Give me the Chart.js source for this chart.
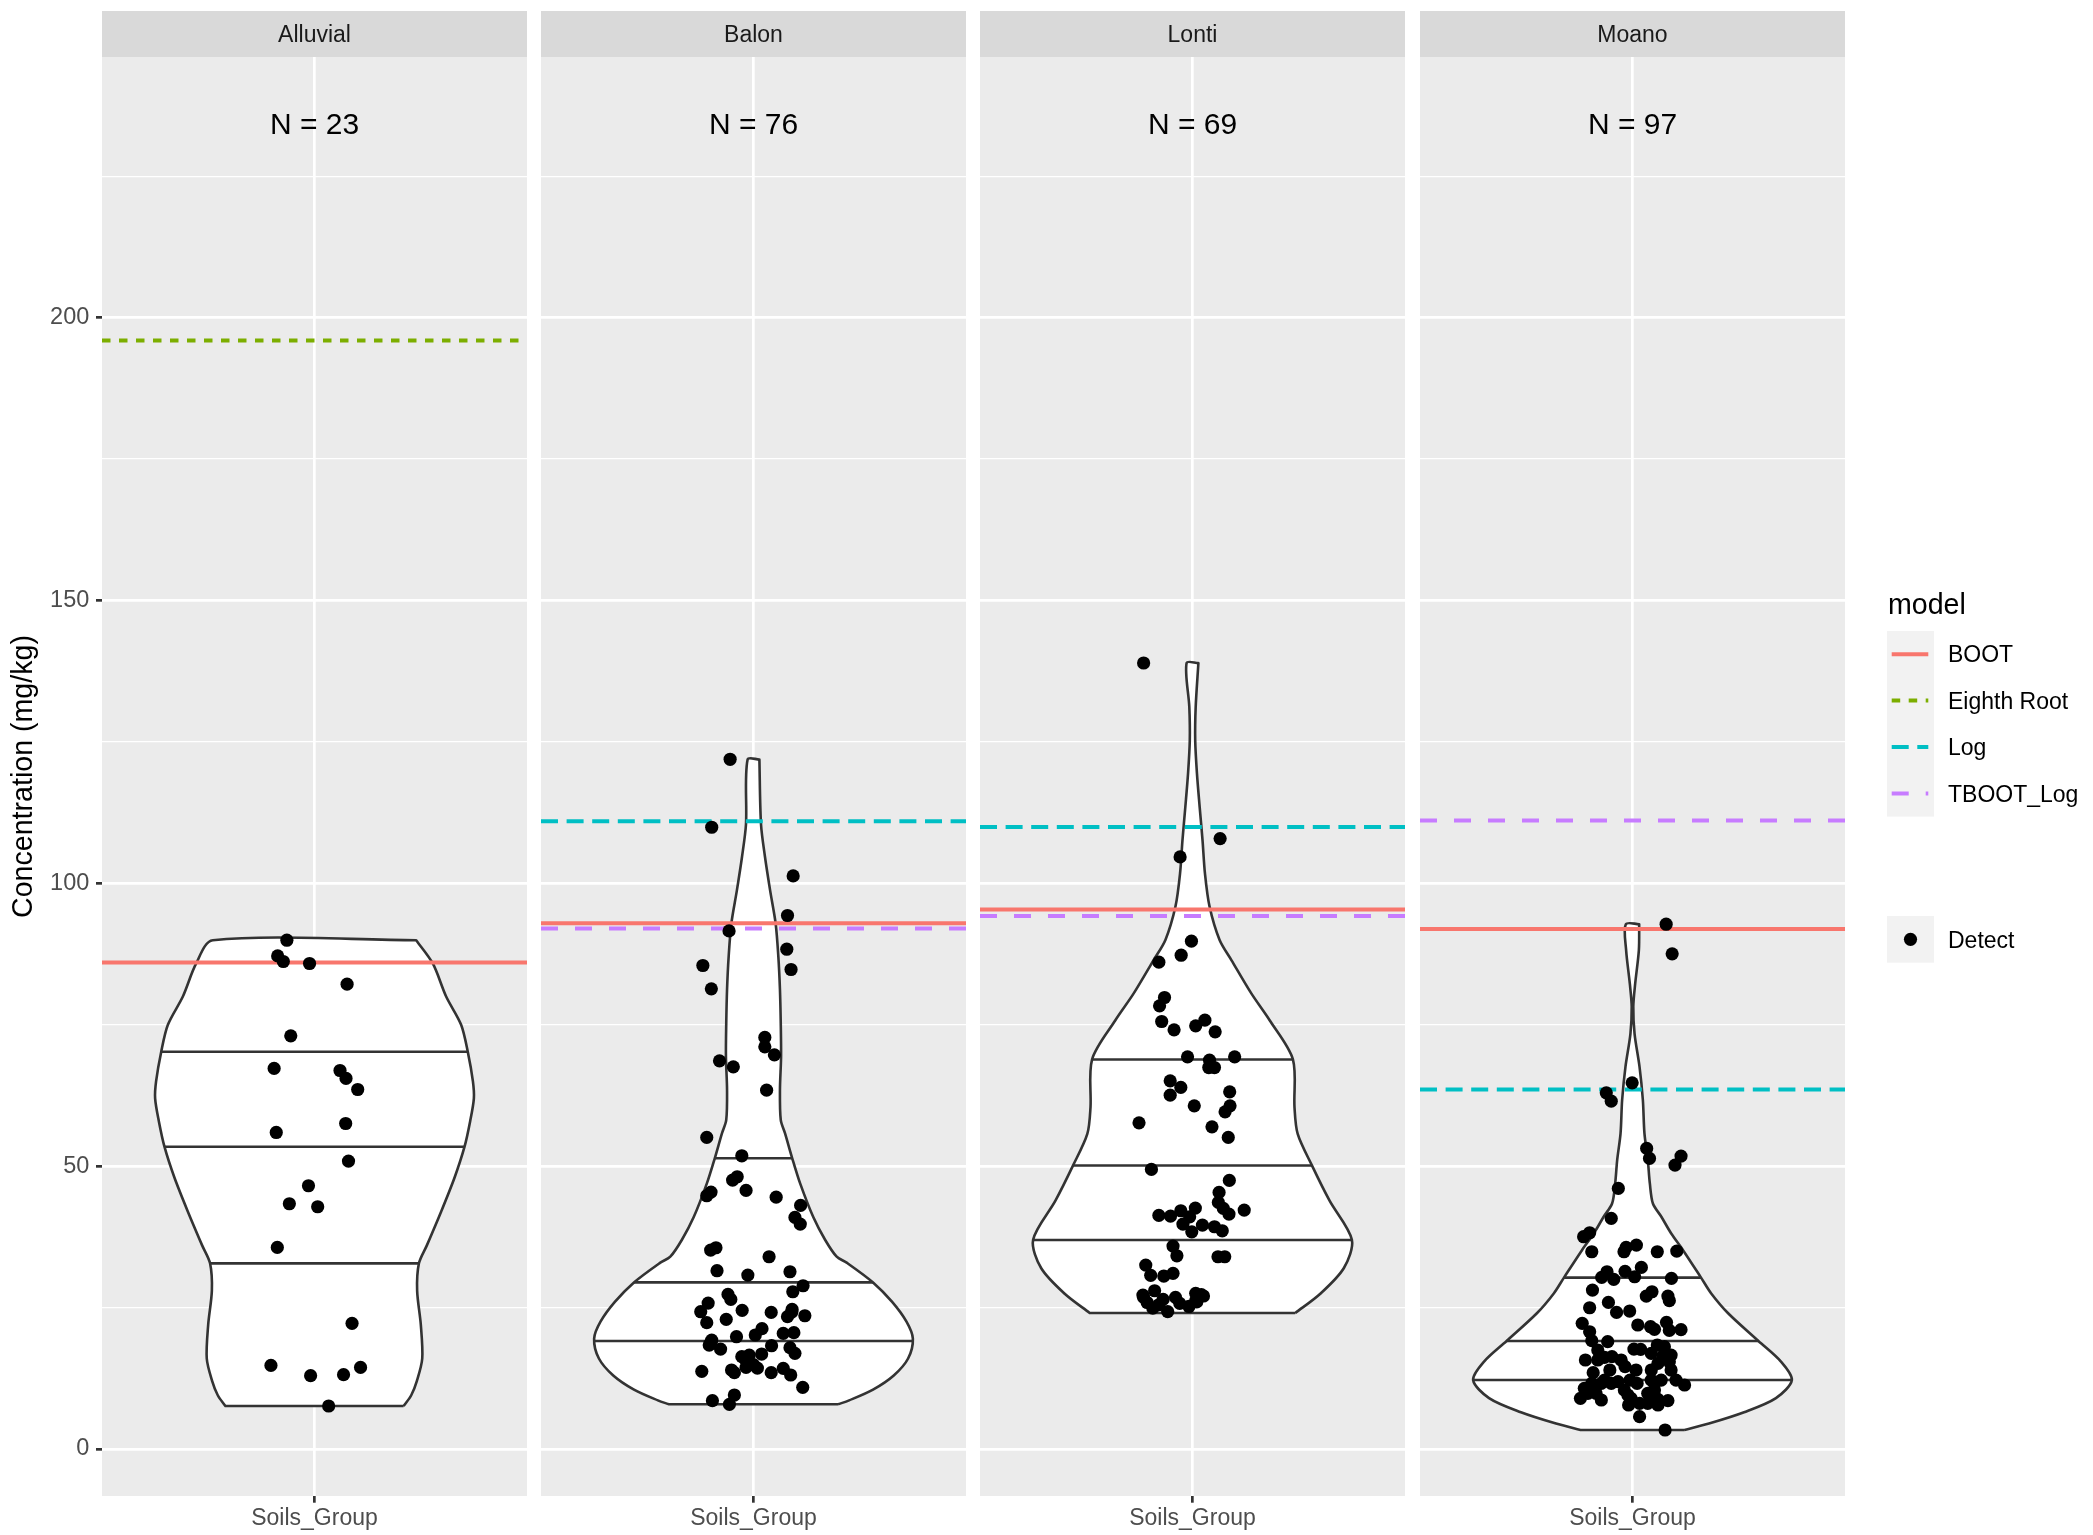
<!DOCTYPE html>
<html>
<head>
<meta charset="utf-8">
<script src="https://cdn.jsdelivr.net/npm/chart.js@4.4.1/dist/chart.umd.min.js"></script>
<style>
  html, body { margin: 0; padding: 0; background: #ffffff; }
  #wrap { position: relative; width: 2093px; height: 1535px; overflow: hidden; }
  canvas { position: absolute; top: 0; }
</style>
</head>
<body>
<div id="wrap">
  <canvas id="c0" width="527" height="1535" style="left:0px"></canvas>
  <canvas id="c1" width="425" height="1535" style="left:541px"></canvas>
  <canvas id="c2" width="425" height="1535" style="left:980px"></canvas>
  <canvas id="c3" width="673" height="1535" style="left:1420px"></canvas>
</div>
<script>
"use strict";
const fontFamily = "'Liberation Sans', Arial, Helvetica, sans-serif";
Chart.defaults.font.family = fontFamily;

// --- axes / labels
const groups = ["Alluvial", "Balon", "Lonti", "Moano"];
const counts = [23, 76, 69, 97];
const yTicks = [0, 50, 100, 150, 200];
const yMinor = [25, 75, 125, 175, 225];
const yMin = -8.31, yMax = 246.1;
const nLabelY = 234.4;

// --- models (horizontal lines), one value per group, null = none
const models = ["BOOT", "Eighth Root", "Log", "TBOOT_Log"];
const modelColors = ["#F8766D", "#7CAE00", "#00BFC4", "#C77CFF"];
const modelDash = [[], [8.5, 8.5], [17, 8.6], [17, 17]];
const bootValues = [86.0, 92.96, 95.38, 91.95];
const eighthRootValues = [196.0, null, null, null];
const logValues = [null, 110.98, 109.98, 63.57];
const tbootLogValues = [null, 92.02, 94.25, 111.1];

// --- jittered points (x = jittered position around 1, y = concentration)
const alluvialX = [0.922,0.896,0.912,0.986,1.092,0.933,0.886,1.072,1.089,1.122,1.088,0.892,1.096,0.983,0.929,1.009,0.895,1.106,0.877,0.989,1.082,1.130,1.040];
const alluvialY = [89.95,87.18,86.19,85.83,82.18,73.04,67.28,66.92,65.51,63.56,57.55,55.96,50.90,46.54,43.36,42.83,35.64,22.21,14.78,12.96,13.14,14.43,7.60];

const balonX = [0.934,0.882,1.112,1.096,0.931,1.094,1.106,0.857,0.881,1.032,1.032,1.059,0.904,0.943,1.037,
  0.868,0.967,0.941,0.954,0.979,0.868,0.880,1.064,1.133,1.117,1.132,0.879,0.894,1.044,0.897,0.984,1.103,1.140,1.111,
  0.928,0.936,0.872,0.851,0.968,1.050,1.109,1.096,1.145,0.868,0.923,1.024,1.005,1.084,1.114,0.882,0.875,0.952,0.907,
  1.051,1.103,1.117,0.967,0.988,1.023,0.979,0.984,1.011,0.854,0.938,0.946,1.050,1.084,1.105,1.139,0.884,0.946,0.932,
  0.975,1.108,0.880,1.000];
const balonY = [121.94,109.92,101.32,94.32,91.60,88.36,84.77,85.48,81.35,72.76,71.10,69.69,68.63,67.56,63.44,
  55.08,51.84,47.54,48.13,45.71,44.77,45.42,44.53,43.06,40.94,39.76,35.17,35.58,33.99,31.52,30.75,31.34,28.86,27.80,
  27.33,26.45,25.80,24.27,24.51,24.15,24.68,23.39,23.56,22.33,22.92,21.27,20.15,20.44,20.56,19.26,18.38,19.85,17.67,
  18.26,17.91,16.91,16.32,16.61,16.79,14.43,15.26,14.31,13.73,13.96,13.49,13.49,14.26,13.08,10.90,8.54,9.54,7.89,
  16.0,24.2,18.9,14.9];

const lontiX = [0.862,1.078,0.965,0.997,0.968,0.905,
  0.921,0.907,0.913,0.948,1.009,1.035,1.064,0.986,1.048,1.062,1.046,1.119,0.937,0.967,0.937,1.105,1.106,1.092,1.005,
  0.849,1.055,1.101,0.884,1.104,1.075,1.073,1.087,1.103,1.146,0.905,0.938,0.967,1.008,0.992,0.973,1.028,0.998,1.062,
  1.084,0.945,0.956,1.072,1.091,0.868,0.882,0.919,0.945,0.860,0.893,0.917,0.964,1.009,1.031,1.009,
  0.862,0.872,0.888,0.905,0.930,0.952,0.990,1.012,1.025];
const lontiY = [138.96,107.92,104.68,89.78,87.30,86.07,
  79.82,78.35,75.58,74.11,74.81,75.82,73.75,69.33,68.75,67.44,67.44,69.33,65.09,63.92,62.56,63.15,60.67,59.61,60.67,
  57.67,56.96,55.08,49.43,47.49,45.36,43.60,42.54,41.53,42.24,41.30,41.18,42.12,42.59,41.05,39.76,39.59,38.40,39.29,
  38.58,35.88,34.16,33.99,33.99,32.52,30.70,30.58,31.05,27.21,27.98,26.45,25.75,27.52,27.05,26.22,
  26.8,25.9,24.9,25.5,24.3,26.8,25.2,26.0,27.3];

const moanoX = [1.095,1.112,0.999,0.926,0.940,1.040,1.048,1.137,
  1.120,0.960,0.940,0.862,0.879,0.885,0.976,0.982,1.011,1.070,1.125,0.928,0.913,0.947,0.979,1.006,1.025,1.110,
  0.887,1.039,1.055,1.100,1.104,0.932,0.879,0.955,0.992,0.858,1.015,1.051,1.062,1.096,1.104,1.137,0.879,0.885,
  0.930,1.004,1.023,1.070,1.090,1.086,1.109,1.104,0.867,0.902,0.921,0.942,0.968,0.979,0.889,0.921,0.959,0.993,
  1.013,1.053,1.053,1.062,1.081,1.123,1.147,0.864,0.885,0.897,0.912,0.853,0.987,0.989,1.020,1.053,1.072,1.100,
  1.043,1.020,1.092,
  1.062,1.072,1.043,0.996,0.977,0.940,0.912,0.874,0.936,1.010,1.072,1.109,1.053,0.902];
const moanoY = [92.78,87.54,64.74,62.97,61.50,53.14,51.37,51.78,
  50.19,46.07,40.77,37.53,38.23,34.87,34.87,35.64,36.05,34.87,34.99,31.34,30.34,29.99,31.41,30.45,32.10,30.16,
  28.10,27.04,27.80,27.04,26.22,25.92,24.97,24.15,24.39,22.21,21.92,21.62,21.15,22.39,20.97,21.09,20.73,19.15,
  18.97,17.67,17.61,18.38,18.09,16.44,16.61,15.43,15.73,15.73,16.20,16.32,15.73,14.55,13.49,12.19,11.90,12.19,
  11.60,13.96,12.19,11.60,12.19,12.19,11.31,10.72,11.60,9.84,8.66,8.96,9.55,7.78,8.07,8.96,8.78,8.55,
  9.84,5.71,3.36,
  10.43,7.78,8.07,8.96,10.43,11.60,11.60,9.84,13.96,13.96,15.14,13.96,16.91,17.50];

// --- violin outlines: levels (concentration, top to bottom) and half width (share of the widest)
const alluvialLevels = [89.95,85.8,80,75,70.2,65,62,58,53.4,48,42,36,32.8,28,22,16,12,9.5,7.6];
const alluvialWidths = [0.638,0.743,0.826,0.92,0.962,0.994,1.0,0.977,0.941,0.879,0.795,0.705,0.655,0.644,0.667,0.676,0.642,0.607,0.559];
const balonLevels = [121.9,110.5,104.7,98.8,92.9,87.0,81.2,75.3,69.4,63.5,58.2,55.8,51.4,47.0,41.0,37.0,34.0,32.9,29.45,26,22.5,19.5,16,13,10.5,8.6,7.9];
const balonWidths = [0.037,0.047,0.072,0.104,0.139,0.156,0.166,0.171,0.173,0.166,0.171,0.198,0.243,0.292,0.375,0.449,0.522,0.587,0.75,0.87,0.96,1.0,0.97,0.88,0.75,0.6,0.53];
const lontiLevels = [138.96,131.2,125.3,119.4,113.5,107.6,101.8,95.9,90.0,86.4,80.5,75.8,68.9,60.4,55.7,50.1,43.9,37,32,27.4,24.05];
const lontiWidths = [0.037,0.02,0.017,0.028,0.045,0.063,0.078,0.107,0.17,0.245,0.37,0.484,0.63,0.64,0.66,0.75,0.86,1.0,0.95,0.8,0.645];
const moanoLevels = [92.78,88.2,82.3,78.2,73.4,67.6,61.7,55.8,51.1,46.9,43.4,41.1,38.1,35.2,30.3,27.5,24,19.1,15.5,12.2,9,6.5,4.5,3.36];
const moanoWidths = [0.042,0.040,0.017,0.005,0.013,0.044,0.065,0.075,0.096,0.109,0.128,0.18,0.243,0.316,0.43,0.494,0.6,0.79,0.93,1.0,0.9,0.7,0.48,0.326];

// --- quartile lines (75%, 50%, 25%) and their half widths
const alluvialQuart = [70.22, 53.43, 32.81];
const alluvialQuartW = [0.962, 0.941, 0.655];
const balonQuart = [51.4, 29.45, 19.09];
const balonQuartW = [0.243, 0.75, 1.0];
const lontiQuart = [68.87, 50.13, 36.94];
const lontiQuartW = [0.63, 0.75, 1.0];
const moanoQuart = [30.3, 19.09, 12.19];
const moanoQuartW = [0.43, 0.79, 1.0];

const maxHalf = 0.45;

const panels = [
  {x: alluvialX, y: alluvialY, lv: alluvialLevels, w: alluvialWidths, q: alluvialQuart, qw: alluvialQuartW},
  {x: balonX, y: balonY, lv: balonLevels, w: balonWidths, q: balonQuart, qw: balonQuartW},
  {x: lontiX, y: lontiY, lv: lontiLevels, w: lontiWidths, q: lontiQuart, qw: lontiQuartW},
  {x: moanoX, y: moanoY, lv: moanoLevels, w: moanoWidths, q: moanoQuart, qw: moanoQuartW}
];
const modelValues = [bootValues, eighthRootValues, logValues, tbootLogValues];

// gray panel, strip on top, N label
const panelPlugin = {
  id: 'panel',
  beforeDraw(chart, args, opts) {
    const ctx = chart.ctx, a = chart.chartArea;
    ctx.save();
    ctx.fillStyle = '#EBEBEB';
    ctx.fillRect(a.left, a.top, a.right - a.left, a.bottom - a.top);
    ctx.fillStyle = '#D9D9D9';
    ctx.fillRect(a.left, 11, a.right - a.left, a.top - 11);
    ctx.fillStyle = '#1A1A1A';
    ctx.font = '23px ' + fontFamily;
    ctx.textAlign = 'center';
    ctx.textBaseline = 'alphabetic';
    ctx.fillText(opts.strip, (a.left + a.right) / 2, (11 + a.top) / 2 + 0.358 * 23);
    ctx.restore();
  },
  afterDatasetsDraw(chart, args, opts) {
    const ctx = chart.ctx;
    const px = chart.scales.x.getPixelForValue(1);
    const py = chart.scales.y.getPixelForValue(nLabelY);
    ctx.save();
    ctx.fillStyle = '#000000';
    ctx.font = '30px ' + fontFamily;
    ctx.textAlign = 'center';
    ctx.textBaseline = 'alphabetic';
    ctx.fillText(opts.label, px, py + 0.358 * 30);
    ctx.restore();
  }
};

// ggplot-like legend at the right
const legendPlugin = {
  id: 'ggLegend',
  afterDraw(chart) {
    const ctx = chart.ctx;
    const kx = chart.chartArea.right + 42;
    const lx = chart.chartArea.right + 103;
    ctx.save();
    ctx.fillStyle = '#000000';
    ctx.font = '28.6px ' + fontFamily;
    ctx.textAlign = 'left';
    ctx.textBaseline = 'alphabetic';
    ctx.fillText('model', kx + 1, 614);
    const keyH = 46.4, top = 631;
    ctx.fillStyle = '#F2F2F2';
    ctx.fillRect(kx, top, 47, keyH * models.length);
    models.forEach((m, i) => {
      const cy = top + keyH * i + keyH / 2;
      ctx.strokeStyle = modelColors[i];
      ctx.lineWidth = 4;
      ctx.setLineDash(modelDash[i]);
      ctx.beginPath();
      ctx.moveTo(kx + 4.7, cy);
      ctx.lineTo(kx + 41.3, cy);
      ctx.stroke();
      ctx.setLineDash([]);
      ctx.fillStyle = '#000000';
      ctx.font = '23px ' + fontFamily;
      ctx.fillText(m, lx, cy + 0.358 * 23);
    });
    ctx.fillStyle = '#F2F2F2';
    ctx.fillRect(kx, 916, 47, 46.7);
    ctx.fillStyle = '#000000';
    ctx.beginPath();
    ctx.arc(kx + 23.5, 939.3, 6.6, 0, Math.PI * 2);
    ctx.fill();
    ctx.font = '23px ' + fontFamily;
    ctx.fillText('Detect', lx, 939.3 + 0.358 * 23);
    ctx.restore();
  }
};

function makeChart(i) {
  const p = panels[i];
  const first = i === 0;
  const last = i === panels.length - 1;
  const n = p.lv.length;
  const datasets = [];

  // violin outline: right side bottom->top, then left side top->bottom.
  // corner points are repeated so the flat top and bottom stay straight
  const R = k => ({x: 1 + maxHalf * p.w[k], y: p.lv[k]});
  const L = k => ({x: 1 - maxHalf * p.w[k], y: p.lv[k]});
  const outline = [R(n - 1)];
  for (let k = n - 1; k >= 0; k--) outline.push(R(k));
  outline.push(R(0));
  for (let k = 0; k < n; k++) outline.push(L(k));
  outline.push(L(n - 1));
  outline.push(R(n - 1));
  datasets.push({
    data: outline, showLine: true, fill: 'shape', backgroundColor: '#FFFFFF',
    borderColor: '#333333', borderWidth: 2.6, borderJoinStyle: 'round',
    pointRadius: 0, tension: 0.3, order: 4
  });

  // quartile lines
  p.q.forEach((q, k) => {
    datasets.push({
      data: [{x: 1 - maxHalf * p.qw[k], y: q}, {x: 1 + maxHalf * p.qw[k], y: q}],
      showLine: true, borderColor: '#333333', borderWidth: 2.6, pointRadius: 0, order: 3
    });
  });

  // model lines
  modelValues.forEach((vals, m) => {
    if (vals[i] === null) return;
    datasets.push({
      data: [{x: 0.4, y: vals[i]}, {x: 1.6, y: vals[i]}],
      showLine: true, borderColor: modelColors[m], borderWidth: 4,
      borderDash: modelDash[m], pointRadius: 0, order: 2
    });
  });

  // points
  datasets.push({
    data: p.x.map((xv, k) => ({x: xv, y: p.y[k]})),
    showLine: false, pointRadius: 6.6, pointBackgroundColor: '#000000',
    pointBorderWidth: 0, order: 0
  });

  const plugins = [panelPlugin];
  if (last) plugins.push(legendPlugin);

  return new Chart(document.getElementById('c' + i), {
    type: 'scatter',
    data: {datasets: datasets},
    plugins: plugins,
    options: {
      responsive: false,
      animation: false,
      events: [],
      layout: {autoPadding: false, padding: {top: 57, left: 0, right: last ? 248 : 0, bottom: 0}},
      plugins: {
        legend: {display: false},
        tooltip: {enabled: false},
        panel: {strip: groups[i], label: 'N = ' + counts[i]}
      },
      scales: {
        x: {
          type: 'linear', min: 0.4, max: 1.6,
          afterBuildTicks: s => { s.ticks = [{value: 1}]; },
          afterFit: s => { s.height = 39; s.paddingLeft = 0; s.paddingRight = 0; },
          ticks: {
            callback: () => 'Soils_Group', color: '#4D4D4D',
            font: {size: 23}, padding: 2, maxRotation: 0, autoSkip: false
          },
          grid: {color: '#FFFFFF', lineWidth: 2.7, tickColor: '#333333', tickLength: 6.7, tickWidth: 2.7},
          border: {display: false}
        },
        y: {
          type: 'linear', min: yMin, max: yMax,
          afterBuildTicks: s => {
            s.ticks = yTicks.concat(yMinor).sort((a, b) => a - b).map(v => ({value: v}));
          },
          afterFit: s => { s.width = first ? 102 : 0; s.paddingTop = 0; s.paddingBottom = 0; },
          ticks: {
            display: first, color: '#4D4D4D', font: {size: 23.5}, padding: 6.7,
            callback: v => yTicks.includes(v) ? String(v) : ''
          },
          grid: {
            color: '#FFFFFF',
            lineWidth: c => yTicks.includes(c.tick.value) ? 2.7 : 1.35,
            tickColor: c => yTicks.includes(c.tick.value) ? '#333333' : 'rgba(0,0,0,0)',
            tickWidth: 2.7,
            tickLength: 6,
            drawTicks: first
          },
          border: {display: false},
          title: {
            display: first, text: 'Concentration (mg/kg)', color: '#000000',
            font: {size: 28.6}, padding: {top: 7, bottom: 0}
          }
        }
      }
    }
  });
}

for (let i = 0; i < panels.length; i++) makeChart(i);
</script>
</body>
</html>
